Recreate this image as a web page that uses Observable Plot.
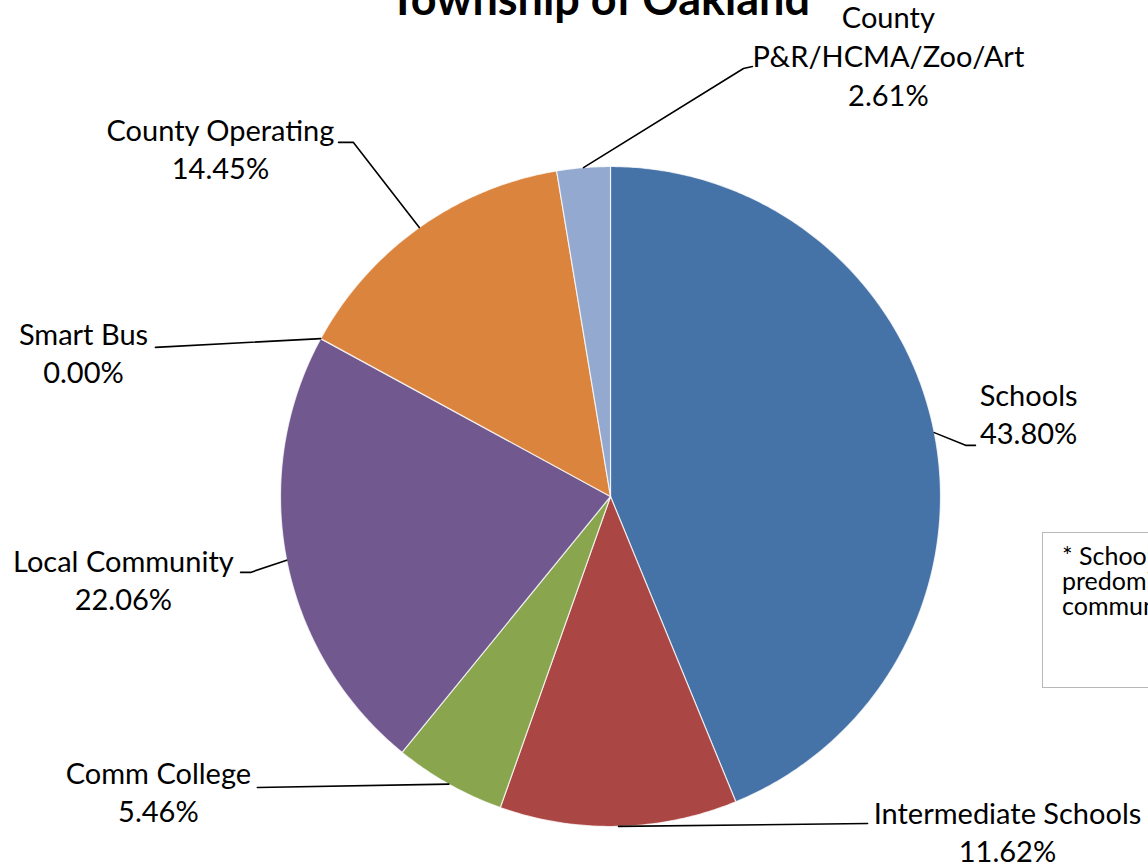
<!DOCTYPE html>
<html><head><meta charset="utf-8">
<script src="https://cdn.jsdelivr.net/npm/d3@7"></script>
<script src="https://cdn.jsdelivr.net/npm/@observablehq/plot@0.6"></script>
<style>
html,body{margin:0;padding:0;background:#fff;overflow:hidden;width:1148px;height:867px;}
#wrap{position:relative;width:1148px;height:867px;overflow:hidden;}
#chart svg{display:block;}
#note{position:absolute;left:1042px;top:532px;width:300px;height:156px;border:1.5px solid #b8b8b8;font-family:Lato,sans-serif;font-size:25px;line-height:25px;padding:10px 0 0 19px;box-sizing:border-box;white-space:nowrap;color:#000;background:#fff;z-index:2;}
</style></head><body>
<div id="wrap"><div id="chart"></div><div id="note"></div></div>
<script>
// ---- data ----
const title = "Township of Oakland";
const categories = ["Schools", "Intermediate Schools", "Comm College", "Local Community", "Smart Bus", "County Operating", "County\nP&R/HCMA/Zoo/Art"];
const shares = [43.80, 11.62, 5.46, 22.06, 0.00, 14.45, 2.61];
const percentLabels = ["43.80%", "11.62%", "5.46%", "22.06%", "0.00%", "14.45%", "2.61%"];
const sliceColors = ["#4572A7", "#AA4643", "#89A54E", "#71588F", "#4198AF", "#DB843D", "#93A9CF"];
const noteLines = ["* Schools tax rate is for the", "predominant school district in the", "community"];

// ---- layout (pie radius = 1 unit) ----
const labelPos = [[1.267, 0.254], [1.203, -1.012], [-1.370, -0.891], [-1.476, -0.249], [-1.597, 0.439], [-1.182, 1.057], [0.842, 1.339]];
const leaderKnee = [[1.076, 0.155], [0.779, -0.991], [-1.070, -0.882], [-1.091, -0.230], [-1.379, 0.452], [-0.779, 1.073], [0.403, 1.297]];
const leaderEnd = [[1.106, 0.155], [0.779, -0.991], [-1.070, -0.882], [-1.121, -0.230], [-1.379, 0.452], [-0.824, 1.073], [0.430, 1.303]];
const titlePos = [-0.033, 1.458];

const W = 1148, H = 867, cx = 610, cy = 496, R = 330;

const rows = categories.map((c, i) => ({name: c, share: shares[i], pct: percentLabels[i], i}));
const arcs = d3.pie().sort(null).value(d => d.share)(rows);

// slice polygons
const slicePts = [];
for (const a of arcs) {
  if (a.endAngle - a.startAngle <= 0) continue;
  const n = Math.max(2, Math.ceil((a.endAngle - a.startAngle) / (Math.PI / 360)));
  slicePts.push({name: a.data.name, x: 0, y: 0});
  for (let k = 0; k <= n; k++) {
    const t = a.startAngle + (a.endAngle - a.startAngle) * k / n;
    slicePts.push({name: a.data.name, x: Math.sin(t), y: Math.cos(t)});
  }
  slicePts.push({name: a.data.name, x: 0, y: 0});
}

// leader lines
const leaderPts = [];
arcs.forEach((a, i) => {
  const m = (a.startAngle + a.endAngle) / 2;
  leaderPts.push({name: a.data.name, x: Math.sin(m), y: Math.cos(m)});
  leaderPts.push({name: a.data.name, x: leaderKnee[i][0], y: leaderKnee[i][1]});
  leaderPts.push({name: a.data.name, x: leaderEnd[i][0], y: leaderEnd[i][1]});
});

const labels = rows.map((d, i) => ({x: labelPos[i][0], y: labelPos[i][1], text: d.name + "\n" + d.pct}));

const plot = Plot.plot({
  width: W, height: H, margin: 0,
  x: {domain: [-cx / R, (W - cx) / R], axis: null},
  y: {domain: [-(H - cy) / R, cy / R], axis: null},
  color: {domain: categories, range: sliceColors},
  style: {fontFamily: "Lato, sans-serif", background: "white", color: "black"},
  marks: [
    Plot.line(slicePts, {x: "x", y: "y", z: "name", fill: "name", stroke: "white", strokeOpacity: 0.75, strokeWidth: 1.2, strokeLinejoin: "round"}),
    Plot.line(leaderPts, {x: "x", y: "y", z: "name", stroke: "black", strokeWidth: 1.6}),
    Plot.text(labels, {x: "x", y: "y", text: "text", fontSize: 29, lineHeight: 1.33, lineAnchor: "middle", fill: "black"}),
    Plot.text([title], {x: () => titlePos[0], y: () => titlePos[1], text: d => d, fontSize: 45, fontWeight: "bold", lineAnchor: "bottom", fill: "black"})
  ]
});
document.getElementById("chart").appendChild(plot);
document.getElementById("note").innerHTML = noteLines.map(s => s.replace(/&/g, "&amp;")).join("<br>");
</script>
</body></html>
